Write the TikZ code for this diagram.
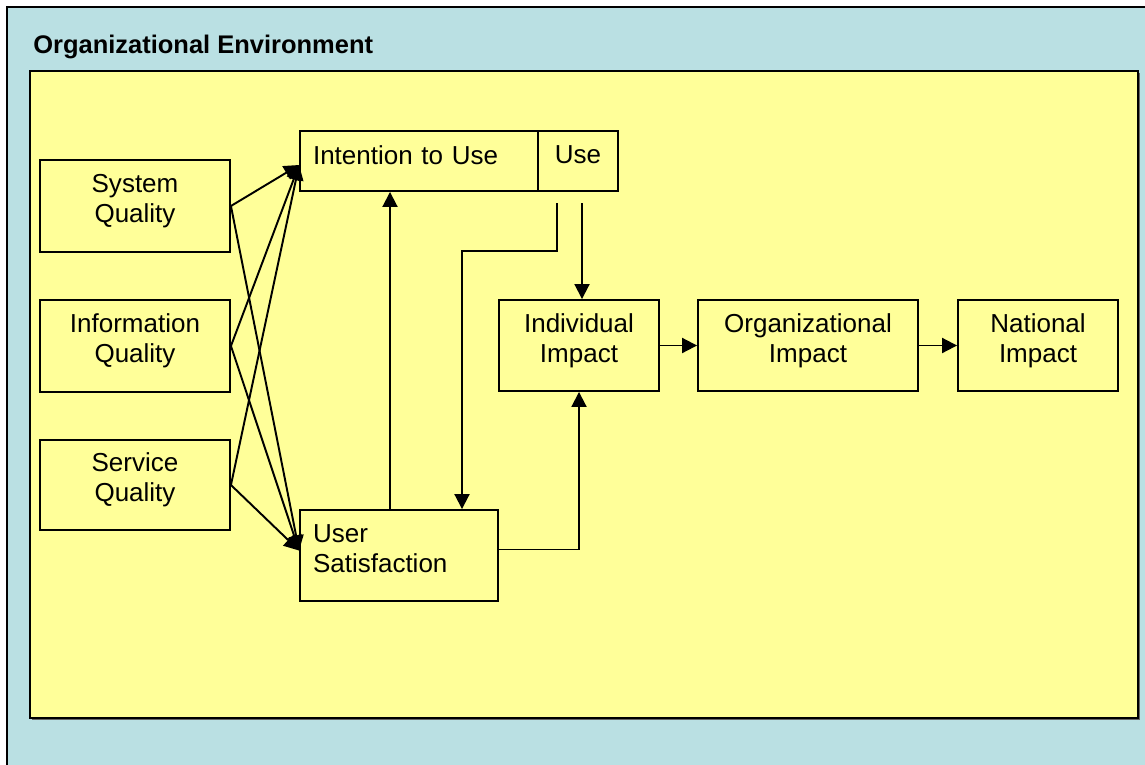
\documentclass[tikz,border=0pt]{standalone}
\usepackage{fontspec}
\setmainfont{Liberation Sans}
\usetikzlibrary{arrows.meta}
\definecolor{envblue}{RGB}{186,224,227}
\definecolor{boxyellow}{RGB}{255,255,153}

\begin{document}
\begin{tikzpicture}[
    x=0.02cm, y=-0.02cm,
    box/.style={draw, line width=1.1pt, fill=boxyellow, align=center, inner sep=0pt,
                text depth=8.6pt, font=\fontsize{14.8}{17}\selectfont},
    lbox/.style={box, align=left, inner xsep=0.26cm},
    arr/.style={-{Triangle[length=0.3cm, width=0.3cm]}, line width=1.1pt}
]
    \clip (0,0) rectangle (1145,764);
    \fill[white] (0,0) rectangle (1145,764);
    \draw[line width=1.1pt, fill=envblue] (7,7) rectangle (1160,780);
    \node[anchor=west, inner sep=0pt, font=\fontsize{14.5}{17}\selectfont\bfseries] (title) at (33,47) {Organizational Environment};

    \fill[black!60] (32,73) rectangle (1140,720);
    \draw[line width=1.1pt, fill=boxyellow] (30,71) rectangle (1138,718);

    \node[box, minimum width=3.8cm, minimum height=1.84cm] (sysq)  at (135,206) {System\\Quality};
    \node[box, minimum width=3.8cm, minimum height=1.84cm] (infq)  at (135,346) {Information\\Quality};
    \node[box, minimum width=3.8cm, minimum height=1.8cm]  (servq) at (135,485) {Service\\Quality};

    \node[lbox, text depth=6.8pt, text width=4.24cm, minimum height=1.2cm] (intent) at (419,161) {Intention to Use};
    \node[box, text depth=6.8pt, minimum width=1.6cm, minimum height=1.2cm] (use) at (578,161) {Use};
    \node[lbox, text depth=25pt, text width=3.44cm, minimum height=1.82cm] (usat) at (399,555.5) {User\\Satisfaction};

    \node[box, minimum width=3.2cm, minimum height=1.82cm] (indiv)  at (579,345.5)  {Individual\\Impact};
    \node[box, minimum width=4.4cm, minimum height=1.82cm] (orgimp) at (808,345.5)  {Organizational\\Impact};
    \node[box, minimum width=3.2cm, minimum height=1.82cm] (natimp) at (1038,345.5) {National\\Impact};

    % quality dimensions to intention / satisfaction
    \foreach \q in {sysq, infq, servq} {
        \draw[arr] (\q.east) -- ([yshift=-0.08cm]intent.west);
        \draw[arr] (\q.east) -- ([yshift=0.1cm]usat.west);
    }

    \draw[arr] ([xshift=-0.18cm]usat.north) -- ([xshift=-0.18cm]usat.north |- intent.south);

    \coordinate (usefb) at (557,203);
    \coordinate (bend)  at (462,251);
    \draw[arr] (usefb) |- (bend) -- (bend |- usat.north);

    \coordinate (useib) at (582,203);
    \draw[arr] (useib) -- (useib |- indiv.north);

    \draw[arr] ([yshift=0.12cm]usat.east) -| (indiv.south);
    \draw[arr] (indiv) -- (orgimp);
    \draw[arr] (orgimp) -- (natimp);
\end{tikzpicture}
\end{document}
